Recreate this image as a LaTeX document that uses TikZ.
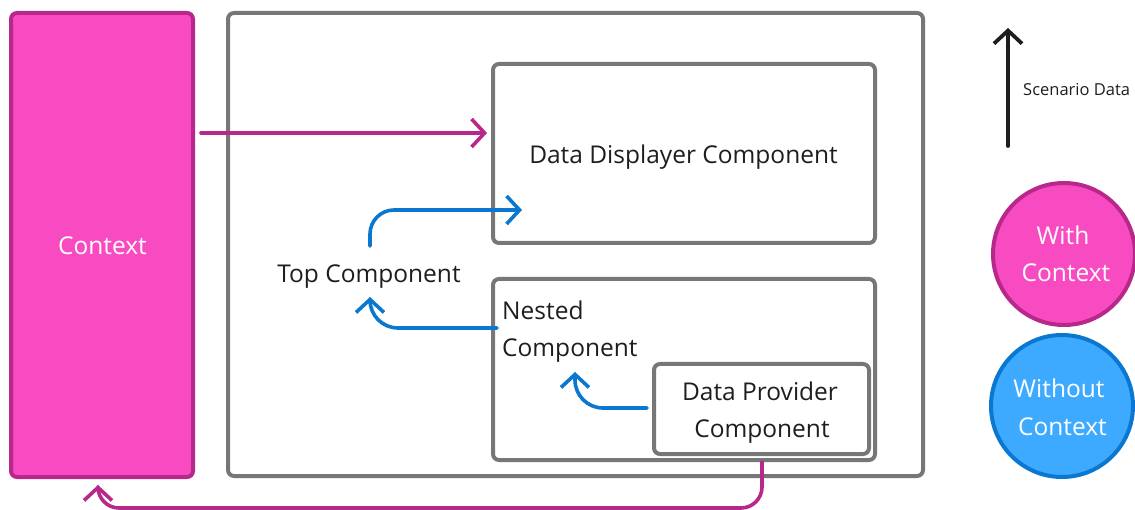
\documentclass[tikz,border=0pt]{standalone}
\usepackage{fontspec}
\setmainfont{Open Sans}
\usetikzlibrary{arrows.meta}
\definecolor{magfill}{HTML}{F94BC1}
\definecolor{magline}{HTML}{B8288A}
\definecolor{bluefill}{HTML}{3DAAFF}
\definecolor{blueline}{HTML}{0A78D0}
\definecolor{boxgray}{HTML}{777777}
\definecolor{ink}{HTML}{1E1E1E}
\begin{document}
\begin{tikzpicture}[x=1pt,y=-1pt,
  box/.style={draw=boxgray,line width=4pt,rounded corners=6pt,inner sep=0pt},
  txt/.style={font=\fontsize{24.5}{30}\selectfont,text=ink,inner sep=0pt,anchor=base},
  wtxt/.style={txt,text=white},
  flow/.style={line width=3.6pt,line cap=round,line join=round,
    -{Straight Barb[length=13pt,width=28pt]}},
  magflow/.style={flow,draw=magline},
  blueflow/.style={flow,draw=blueline},
  legendcircle/.style={circle,line width=4pt,minimum size=142pt,inner sep=0pt}
]
\useasboundingbox (0,0) rectangle (1135,510);

% context column
\node[box,draw=magline,fill=magfill,minimum width=182pt,minimum height=464pt] (ctx) at (102,245) {};
\node[wtxt] (ctxlbl) at (102.5,255) {Context};

% application frame
\node[box,minimum width=695pt,minimum height=463pt] (app) at (575.5,244.5) {};

% components
\node[box,minimum width=382pt,minimum height=179pt] (disp) at (684,153.5) {};
\node[txt] (displbl) at (683.5,164) {Data Displayer Component};
\node[box,minimum width=382pt,minimum height=181pt] (nest) at (684,369.5) {};
\node[txt,anchor=base west] (nestlblA) at (502,320) {Nested};
\node[txt,anchor=base west] (nestlblB) at (502,357) {Component};
\node[box,minimum width=215pt,minimum height=90pt] (prov) at (761.5,409) {};
\node[txt] (provlblA) at (760,400) {Data Provider};
\node[txt] (provlblB) at (762,437) {Component};
\node[txt] (top) at (369,283) {Top Component};

% connector ends
\coordinate (ctxout) at (201,133);
\coordinate (dispin) at (487,133);
\coordinate (topout) at (370,246);
\coordinate (dispin2) at (522,210);
\coordinate (nestout) at (497,328);
\coordinate (topin) at (370,297);
\coordinate (provout) at (647,408);
\coordinate (nestin) at (575,372);
\coordinate (provbot) at (762,462);
\coordinate (ctxin) at (98,485);

% data flow through context
\draw[magflow] (ctxout) -- (dispin);
\draw[magflow,rounded corners=21pt] (provbot) |- (ctxin |- 0,508) -- (ctxin);

% data flow through props
\draw[blueflow,rounded corners=24pt] (topout) |- (dispin2);
\draw[blueflow,rounded corners=28pt] (nestout) -| (topin);
\draw[blueflow,rounded corners=28pt] (provout) -| (nestin);

% legend
\coordinate (sdlow) at (1008,146);
\coordinate (sdhigh) at (1008,28);
\draw[flow,draw=ink,line width=3.8pt] (sdlow) -- (sdhigh);
\node[anchor=base west,inner sep=0pt,font=\fontsize{16.5}{20}\selectfont,text=ink] (sdlbl) at (1023,96) {Scenario Data};
\node[legendcircle,draw=magline,fill=magfill] (withc) at (1064,254) {};
\node[wtxt] (withA) at (1063,245) {With};
\node[wtxt] (withB) at (1066,282) {Context};
\node[legendcircle,draw=blueline,fill=bluefill] (withoutc) at (1062,406) {};
\node[wtxt] (withoutA) at (1059,398) {Without};
\node[wtxt] (withoutB) at (1062.5,435) {Context};
\end{tikzpicture}
\end{document}
